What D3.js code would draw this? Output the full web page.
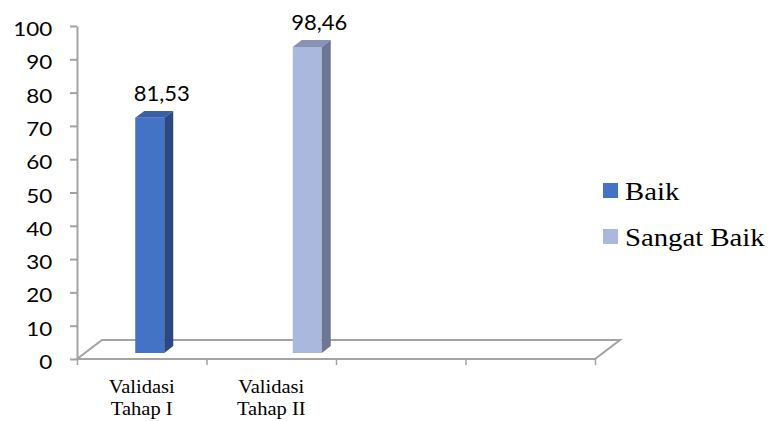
<!DOCTYPE html>
<html>
<head>
<meta charset="utf-8">
<script src="https://cdn.jsdelivr.net/npm/d3@7"></script>
<style>
  body { margin: 0; background: #fff; }
</style>
</head>
<body>
<div id="plot"></div>
<script>
// chart data
var categories = [["Validasi", "Tahap I"], ["Validasi", "Tahap II"], [], []];
var series = ["Baik", "Sangat Baik"];
var barCategory = [0, 1];          // which category each series sits in
var barValues = [70.6, 91.9];      // bar heights as drawn against the axis
var barLabels = ["81,53", "98,46"];
var yTicks = [0, 10, 20, 30, 40, 50, 60, 70, 80, 90, 100];

var colors = {
  front: ["#4472C4", "#A9B8DC"],
  top:   ["#3A5FA9", "#8792B6"],
  side:  ["#2C4881", "#6C7794"]
};

var width = 770, height = 421;
var svg = d3.select("div#plot")
  .append("svg")
    .attr("width", width)
    .attr("height", height);

// plot area (front plane of the 3d floor)
var plotLeft = 77, plotRight = 595, plotBottom = 359, plotTop = 26;
var depth = {dx: 25, dy: -19};           // floor depth
var barDepth = {start: 0.32, size: 0.36}; // bar position inside the depth

var x = d3.scaleBand().domain(d3.range(categories.length)).range([plotLeft, plotRight]);
var xEdge = d3.scaleLinear().domain([0, categories.length]).range([plotLeft, plotRight]);
var y = d3.scaleLinear().domain([0, 100]).range([plotBottom, plotTop]);
var offset = d3.scalePoint().domain(series).range([0, 28]);
var barW = x.bandwidth() * 0.224;

var grey = "#A3A3A3";

// floor
var floor = [[plotLeft, plotBottom], [plotRight, plotBottom],
  [plotRight + depth.dx, plotBottom + depth.dy], [plotLeft + depth.dx, plotBottom + depth.dy]];
svg.append("polygon")
  .attr("points", floor.map(p => p.join(",")).join(" "))
  .attr("fill", "none")
  .attr("stroke", grey)
  .attr("stroke-width", 2);

// bars
var sx = depth.dx * barDepth.start, sy = depth.dy * barDepth.start;
var ddx = depth.dx * barDepth.size, ddy = depth.dy * barDepth.size;

series.forEach(function(s, i) {
  var cx = x(barCategory[i]) + x.bandwidth() / 2 + offset(s);
  var x0 = cx - barW / 2 + sx, x1 = x0 + barW;
  var yb = plotBottom + sy, yt = y(barValues[i]) + sy;
  var g = svg.append("g");
  g.append("polygon")
    .attr("points", [[x0, yb], [x1, yb], [x1, yt], [x0, yt]].map(p => p.join(",")).join(" "))
    .attr("fill", colors.front[i]);
  g.append("polygon")
    .attr("points", [[x0, yt], [x1, yt], [x1 + ddx, yt + ddy], [x0 + ddx, yt + ddy]].map(p => p.join(",")).join(" "))
    .attr("fill", colors.top[i]);
  g.append("polygon")
    .attr("points", [[x1, yb], [x1 + ddx, yb + ddy], [x1 + ddx, yt + ddy], [x1, yt]].map(p => p.join(",")).join(" "))
    .attr("fill", colors.side[i]);

  // value label
  svg.append("text")
    .attr("transform", "translate(" + (cx + sx + 12) + "," + (yt + ddy - 10) + ")")
    .attr("text-anchor", "middle")
    .style("font-family", "Lato, 'Open Sans', sans-serif")
    .style("font-size", "22px")
    .attr("fill", "#000")
    .text(barLabels[i]);
});

// y axis
var yAxis = svg.append("g")
  .attr("transform", "translate(" + plotLeft + ",0)")
  .call(d3.axisLeft(y).tickValues(yTicks).tickSize(7).tickSizeOuter(0));
yAxis.select(".domain").attr("stroke", grey).attr("stroke-width", 2);
yAxis.selectAll(".tick line").attr("stroke", grey).attr("stroke-width", 2);
yAxis.selectAll(".tick text")
  .attr("x", -21)
  .attr("dy", "0.5em")
  .attr("transform", "scale(1.18,1)")
  .attr("fill", "#000")
  .style("font-family", "Lato, 'Open Sans', sans-serif")
  .style("font-size", "19px");

// x axis: ticks on the category edges
var xAxis = svg.append("g")
  .attr("transform", "translate(0," + plotBottom + ")")
  .call(d3.axisBottom(xEdge).tickValues(d3.range(categories.length + 1))
    .tickFormat("").tickSize(6).tickSizeOuter(0));
xAxis.select(".domain").remove();
xAxis.selectAll(".tick line").attr("stroke", grey).attr("stroke-width", 1.5);

// category labels
categories.forEach(function(lines, i) {
  lines.forEach(function(line, j) {
    svg.append("text")
      .attr("transform", "translate(" + (x(i) + x.bandwidth() / 2) + "," + (393 + j * 22) + ") scale(1.08,1)")
      .attr("text-anchor", "middle")
      .style("font-family", "'Liberation Serif', 'Times New Roman', serif")
      .style("font-size", "19px")
      .attr("fill", "#000")
      .text(line);
  });
});

// legend
var legend = svg.append("g").attr("transform", "translate(603,183)");
series.forEach(function(s, i) {
  legend.append("rect")
    .attr("x", 0)
    .attr("y", i * 46)
    .attr("width", 15)
    .attr("height", 15)
    .attr("fill", colors.front[i]);
  legend.append("text")
    .attr("transform", "translate(22," + (i * 46 + 17) + ") scale(1.15,1)")
    .style("font-family", "'Liberation Serif', 'Times New Roman', serif")
    .style("font-size", "25px")
    .attr("fill", "#000")
    .text(s);
});
</script>
</body>
</html>
